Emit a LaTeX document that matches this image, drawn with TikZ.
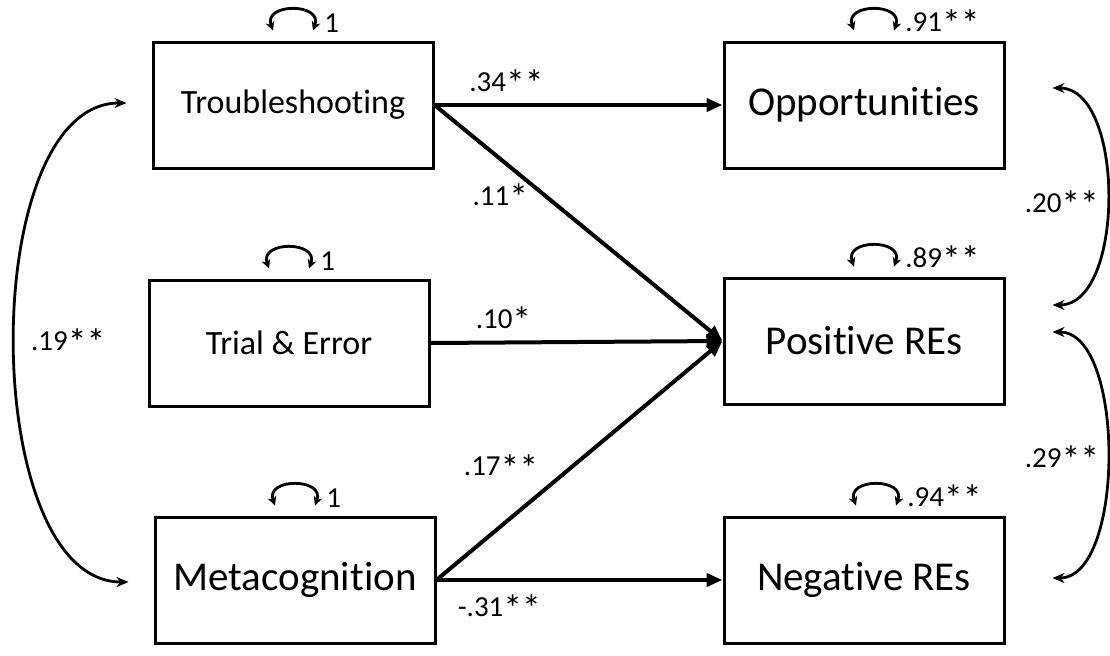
\documentclass[tikz,border=0pt]{standalone}
\usepackage{graphicx}
\usepackage{fontspec}
\setmainfont{Carlito}[Ligatures=CommonOff]
\usepackage{tikz}
\usetikzlibrary{arrows.meta}
\newcommand{\sg}{\raisebox{-2.6pt}{\scalebox{1.3}{*}}}

\begin{document}
\begin{tikzpicture}[x=0.5pt, y=-0.5pt,
    smallbox/.style={draw, line width=1.5pt, minimum width=140pt, minimum height=63pt,
        font=\fontsize{17}{20}\selectfont},
    bigbox/.style={smallbox, font=\fontsize{20.5}{24}\selectfont},
    lbl/.style={font=\fontsize{14.5}{17}\selectfont},
    varlbl/.style={lbl, right, xshift=3pt, yshift=3.5pt, inner sep=2pt},
    regpath/.style={line width=2pt, -{Triangle[length=8pt,width=6.5pt]}},
    selfloop/.style={line width=1.4pt, {Stealth[length=4.5pt,width=4.5pt]}-{Stealth[length=4.5pt,width=4.5pt]}},
    corr/.style={line width=1.4pt, {Stealth[length=6pt,width=5pt]}-{Stealth[length=6pt,width=5pt]}}]
\useasboundingbox (0, 0) rectangle (1110, 655);

% predictors
\node [smallbox] (trbl) at (293, 105) {Troubleshooting};
\node [smallbox] (trial) at (289, 343) {Trial \& Error};
\node [bigbox] (meta) at (295, 580) {Metacognition};

% outcomes
\node [bigbox] (opp) at (864, 105) {Opportunities};
\node [bigbox] (pos) at (864, 341) {Positive REs};
\node [bigbox] (neg) at (864, 580) {Negative REs};

% regression paths
\draw [regpath] (trbl.east) -- node [lbl, pos=0.25, above] {.34\sg\sg} (opp.west);
\draw [regpath] (trbl.east) -- node [lbl, pos=0.39, left=5pt] {.11\sg} (pos.west);
\draw [regpath] (trial.east) -- node [lbl, pos=0.25, above] {.10\sg} (pos.west);
\draw [regpath] (meta.east) -- node [lbl, pos=0.47, left=12pt] {.17\sg\sg} (pos.west);
\draw [regpath] (meta.east) -- node [lbl, pos=0.22, below=3pt] {-.31\sg\sg} (neg.west);

% variances
\draw [selfloop] ([xshift=-10pt, yshift=5pt]trbl.north) to [out=110, in=70, looseness=1.9]
    ([xshift=10pt, yshift=5pt]trbl.north) node [varlbl] {1};
\draw [selfloop] ([xshift=-10pt, yshift=5pt]trial.north) to [out=110, in=70, looseness=1.9]
    ([xshift=10pt, yshift=5pt]trial.north) node [varlbl] {1};
\draw [selfloop] ([xshift=-10pt, yshift=5pt]meta.north) to [out=110, in=70, looseness=1.9]
    ([xshift=10pt, yshift=5pt]meta.north) node [varlbl] {1};
\draw [selfloop] ([xshift=-5pt, yshift=5pt]opp.north) to [out=110, in=70, looseness=1.9]
    ([xshift=15pt, yshift=5pt]opp.north) node [varlbl] {.91\sg\sg};
\draw [selfloop] ([xshift=-5pt, yshift=5pt]pos.north) to [out=110, in=70, looseness=1.9]
    ([xshift=15pt, yshift=5pt]pos.north) node [varlbl] {.89\sg\sg};
\draw [selfloop] ([xshift=-4pt, yshift=5pt]neg.north) to [out=110, in=70, looseness=1.9]
    ([xshift=16pt, yshift=5pt]neg.north) node [varlbl] {.94\sg\sg};

% correlations
\draw [corr] ([xshift=-12.5pt, yshift=1pt]trbl.west) to [out=180, in=180, looseness=0.8]
    node [lbl, pos=0.5, right, xshift=4pt] {.19\sg\sg} ([xshift=-12.5pt, yshift=-1pt]meta.west);
\draw [corr] ([xshift=23.5pt, yshift=8.5pt]opp.east) to [out=0, in=0, looseness=0.86]
    node [lbl, pos=0.5, left, yshift=-4pt] {.20\sg\sg} ([xshift=23.5pt, yshift=18pt]pos.east);
\draw [corr] ([xshift=23.5pt, yshift=4.5pt]pos.east) to [out=0, in=0, looseness=0.76]
    node [lbl, pos=0.5, left, yshift=-2pt] {.29\sg\sg} ([xshift=23.5pt, yshift=1pt]neg.east);
\end{tikzpicture}
\end{document}
